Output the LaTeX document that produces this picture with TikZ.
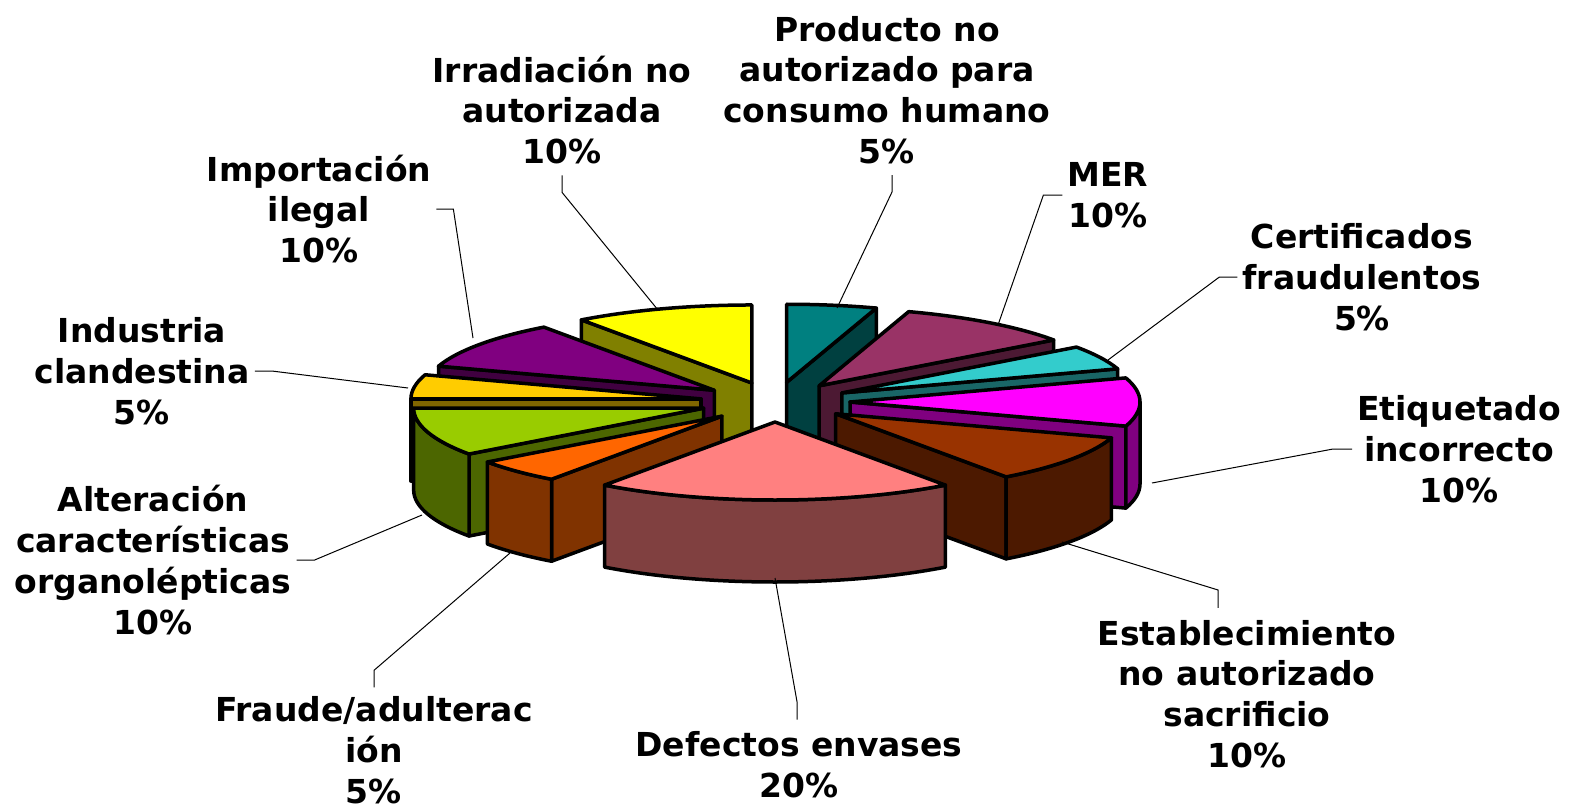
\documentclass[tikz,border=0pt]{standalone}
\usepackage{fontspec}
\setmainfont{DejaVu Sans}

\definecolor{cprod}{HTML}{008080}
\definecolor{cmer}{HTML}{993366}
\definecolor{ccert}{HTML}{33CCCC}
\definecolor{cetiq}{HTML}{FF00FF}
\definecolor{cestab}{HTML}{993300}
\definecolor{cdefect}{HTML}{FF8080}
\definecolor{cfraude}{HTML}{FF6600}
\definecolor{calter}{HTML}{99CC00}
\definecolor{cindust}{HTML}{FFCC00}
\definecolor{cimport}{HTML}{800080}
\definecolor{cirrad}{HTML}{FFFF00}

\tikzset{
  lbl/.style={align=center, font=\fontsize{33}{40.7}\selectfont\bfseries, inner sep=5pt},
  leader/.style={line width=1pt},
  slab/.style={draw=black, line width=3.5pt, line join=round},
}

\begin{document}
\begin{tikzpicture}[x=1pt,y=1pt]
    \useasboundingbox (0,0) rectangle (1574,-808);
    % slices from back to front: start/end/colour/cut face/rim from/rim to
    \foreach \a/\b/\col/\fc/\ra/\rb in {
        0/18/cprod/18/0/0,
        324/360/cirrad/324/0/0,
        18/54/cmer/54/0/0,
        288/324/cimport/288/0/0,
        54/72/ccert/72/0/0,
        270/288/cindust/270/0/0,
        72/108/cetiq/108/90/108,
        234/270/calter/234/234/270,
        108/144/cestab/144/108/144,
        216/234/cfraude/216/216/234,
        144/216/cdefect/-1/144/216}
    {
        \pgfmathsetmacro\slmid{(\a+\b)/2}
        \pgfmathsetmacro\ax{775+75*sin(\slmid)}
        \pgfmathsetmacro\ay{-402+20*cos(\slmid)}
        \ifdim\fc pt>-1pt
            \filldraw[slab, fill=\col!50!black] (\ax,\ay) -- ++({290*sin(\fc)},{78*cos(\fc)}) -- ++(0,-82) -- ++({-290*sin(\fc)},{-78*cos(\fc)}) -- cycle;
        \fi
        \ifdim\rb pt>\ra pt
            \filldraw[slab, fill=\col!50!black] ({\ax+290*sin(\ra)},{\ay+78*cos(\ra)}) arc[start angle={90-\ra}, end angle={90-\rb}, x radius=290, y radius=78] -- ++(0,-82) arc[start angle={90-\rb}, end angle={90-\ra}, x radius=290, y radius=78] -- cycle;
        \fi
        \filldraw[slab, fill=\col] (\ax,\ay) -- ({\ax+290*sin(\a)},{\ay+78*cos(\a)}) arc[start angle={90-\a}, end angle={90-\b}, x radius=290, y radius=78] -- cycle;
    }

    % labels
    \node[lbl] (prod) at (887,-90) {Producto no\\autorizado para\\consumo humano\\5\%};
    \node[lbl] (mer) at (1108,-195) {MER\\10\%};
    \node[lbl] (cert) at (1362,-277) {Certificados\\fraudulentos\\5\%};
    \node[lbl] (etiq) at (1459,-449) {Etiquetado\\incorrecto\\10\%};
    \node[lbl] (estab) at (1247,-694) {Establecimiento\\no autorizado\\sacrificio\\10\%};
    \node[lbl] (defect) at (799,-765) {Defectos envases\\20\%};
    \node[lbl] (fraude) at (374,-750) {Fraude/adulterac\\ión\\5\%};
    \node[lbl] (alter) at (153,-560) {Alteración\\características\\organolépticas\\10\%};
    \node[lbl] (indust) at (142,-371) {Industria\\clandestina\\5\%};
    \node[lbl] (import) at (319,-209) {Importación\\ilegal\\10\%};
    \node[lbl] (irrad) at (562,-110) {Irradiación no\\autorizada\\10\%};

    % leader lines
    \coordinate (prodTip) at (837,-308);
    \coordinate (merTip) at (998,-325);
    \coordinate (certTip) at (1108,-360);
    \coordinate (etiqTip) at (1152,-483);
    \coordinate (estabTip) at (1062,-542);
    \coordinate (defectTip) at (775,-578);
    \coordinate (fraudeTip) at (510,-553);
    \coordinate (alterTip) at (422,-515);
    \coordinate (industTip) at (408,-388);
    \coordinate (importTip) at (473,-338);
    \coordinate (irradTip) at (658,-310);
    \draw[leader] ([xshift=5pt]prod.south) ++(0,-6) -- ++(0,-17) -- (prodTip);
    \draw[leader] (mer.west) -- ++(-19,0) -- (merTip);
    \draw[leader] (cert.west) -- ++(-18,0) -- (certTip);
    \draw[leader] (etiq.west) -- ++(-19,0) -- (etiqTip);
    \draw[leader] ([xshift=-29pt]estab.north) ++(0,7) -- ++(0,18) -- (estabTip);
    \draw[leader] ([xshift=-2pt]defect.north) ++(0,7) -- ++(0,18) -- (defectTip);
    \draw[leader] (fraude.north) ++(0,4) -- ++(0,17) -- (fraudeTip);
    \draw[leader] (alter.east) -- ++(18,0) -- (alterTip);
    \draw[leader] (indust.east) -- ++(17,0) -- (industTip);
    \draw[leader] (import.east) -- ++(17,0) -- (importTip);
    \draw[leader] (irrad.south) ++(0,-6) -- ++(0,-17) -- (irradTip);
\end{tikzpicture}
\end{document}
